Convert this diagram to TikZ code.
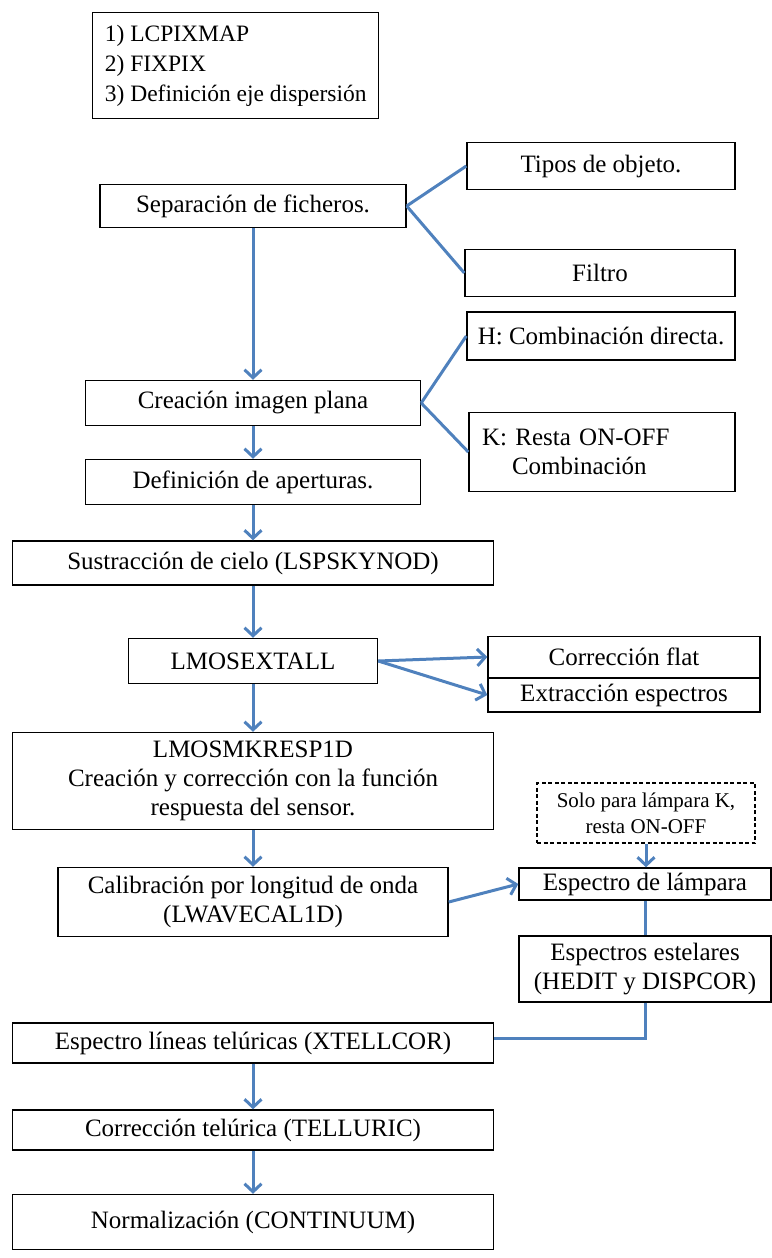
\documentclass[tikz,border=0pt]{standalone}
\usepackage{fontspec}
\setmainfont{Liberation Serif}
\usepackage{xcolor}
\usetikzlibrary{arrows.meta}
\definecolor{azul}{RGB}{79,129,189}

\tikzset{
  caja/.style 2 args={draw=black, line width=1.4pt, minimum width=#1, minimum height=#2,
    inner sep=4pt, align=center, font=\fontsize{25}{29}\selectfont},
  linea/.style={azul, line width=3pt},
  flecha/.style={linea, -{Straight Barb[length=8pt,width=17pt]}}
}

\begin{document}
\begin{tikzpicture}[x=1pt,y=-1pt]
  \useasboundingbox (0,0) rectangle (771,1258);
  % columna principal
  \node[caja={286}{106}, align=left, anchor=north west,
    font=\fontsize{23.5}{30}\selectfont] (lista) at (92,12)
    {1) LCPIXMAP\\2) FIXPIX\\3) Definición eje dispersión};
  \node[caja={306}{43}] (sep) at (253,206) {Separación de ficheros.};
  \node[caja={335}{45}] (crea) at (253,403) {Creación imagen plana};
  \node[caja={335}{45}] (aper) at (253,482) {Definición de aperturas.};
  \node[caja={481}{44}] (cielo) at (253,563) {Sustracción de cielo (LSPSKYNOD)};
  \node[caja={249}{45}] (lmosext) at (253,661) {LMOSEXTALL};
  \node[caja={481}{97}] (lmosmk) at (253,781)
    {LMOSMKRESP1D\\Creación y corrección con la función\\respuesta del sensor.};
  \node[caja={390}{69}] (calib) at (253,902) {Calibración por longitud de onda\\(LWAVECAL1D)};
  \node[caja={481}{40}] (telur) at (253,1043) {Espectro líneas telúricas (XTELLCOR)};
  \node[caja={481}{40}] (ctelur) at (253,1130) {Corrección telúrica (TELLURIC)};
  \node[caja={481}{55}] (norm) at (253,1222) {Normalización (CONTINUUM)};
  % cajas laterales
  \node[caja={268}{47}] (tipos) at (601,166) {Tipos de objeto.};
  \node[caja={270}{47}] (filtro) at (600,273) {Filtro};
  \node[caja={268}{48}] (hcomb) at (601,336) {H: Combinación directa.};
  \node[caja={266}{79}, align=left, text width=240] (kresta) at (602,452)
    {K: Resta ON-OFF\\\hspace{1.2em}Combinación};
  \node[caja={272}{41}] (cflat) at (624,657) {Corrección flat};
  \node[caja={272}{34}] (extr) at (624,695) {Extracción espectros};
  \node[caja={218}{60}, line width=1.2pt, dash pattern=on 4pt off 2.5pt,
    font=\fontsize{21}{26}\selectfont] (solo) at (646,813)
    {Solo para lámpara K,\\resta ON-OFF};
  \node[caja={252}{32}] (lampara) at (645,884) {Espectro de lámpara};
  \node[caja={252}{66}] (estel) at (645,969) {Espectros estelares\\(HEDIT y DISPCOR)};
  % conectores
  \draw[flecha] (sep) -- (crea);
  \draw[flecha] (crea) -- (aper);
  \draw[flecha] (aper) -- (cielo);
  \draw[flecha] (cielo) -- (lmosext);
  \draw[flecha] (lmosext) -- (lmosmk);
  \draw[flecha] (lmosmk) -- (calib);
  \draw[flecha] (telur) -- (ctelur);
  \draw[flecha] (ctelur) -- (norm);
  \draw[linea] (sep.east) -- (tipos.west);
  \draw[linea] (sep.east) -- (filtro.west);
  \draw[linea] (crea.east) -- (hcomb.west);
  \draw[linea] (crea.east) -- (kresta.west);
  \draw[flecha] (lmosext.east) -- (cflat.west);
  \draw[flecha] (lmosext.east) -- (extr.west);
  \draw[flecha] (calib.east) -- (lampara.west);
  \draw[flecha] (solo.south) -- (solo.south |- lampara.north);
  \draw[linea] (lampara) -- (estel);
  \draw[linea] (estel.south) |- ([yshift=5pt]telur.east);
\end{tikzpicture}
\end{document}
